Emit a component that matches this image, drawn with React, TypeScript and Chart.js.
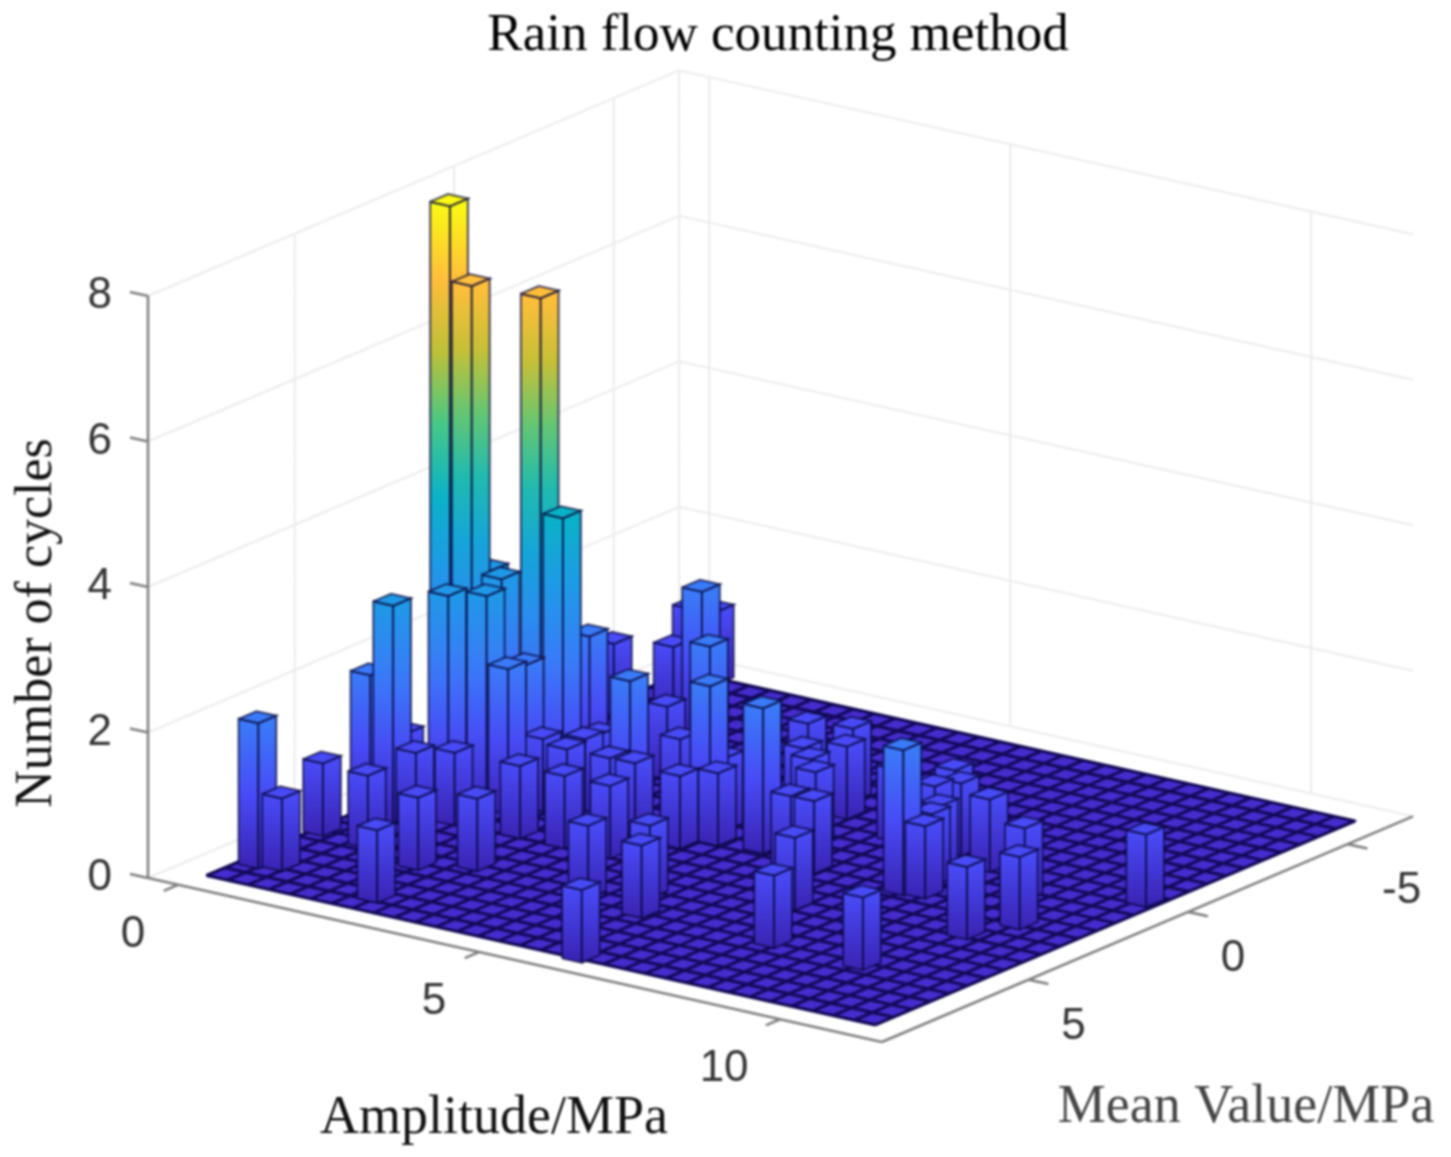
import React, { useEffect, useRef } from "react";
import { Chart, registerables } from "chart.js";

Chart.register(...registerables);

const barAmplitude = [
  0.30, 0.62, 0.17, 0.97, 2.47, 0.62, 0.29, 0.31, 0.91, 2.08, 1.33, 2.75, 0.97, 1.39, 0.32, 0.74, 1.80, 2.09, 0.79, 1.12,
  1.63, 1.72, 1.68, 0.27, 3.27, 1.94, 2.46, 2.40, 2.44, 3.16, 3.56, 2.38, 3.12, 3.87, 4.65, 6.23, 5.32, 5.74, 4.38, 4.72,
  4.27, 3.25, 1.76, 0.24, 0.57, 1.00, 2.46, 3.44, 4.41, 5.41, 4.43, 5.05, 5.44, 5.02, 5.38, 5.76, 6.10, 6.48, 7.21, 7.95,
  9.48, 8.01, 6.57, 8.33, 7.23, 7.63, 7.42, 7.98, 8.10, 8.35, 9.47, 10.15, 9.83, 10.95,
];
const barMean = [
  7.68, 7.54, 5.41, 5.51, 8.05, 4.06, 4.15, 3.09, 3.89, 6.03, 3.47, 5.44, 2.99, 2.58, 1.71, 1.82, 1.66, 1.51, 1.34, 1.60,
  2.36, 1.98, -0.10, -3.52, 1.63, 1.85, 2.08, 1.40, 1.00, 2.05, 2.02, 3.40, 3.40, 3.39, 5.55, 8.73, 4.88, 5.93, 2.16, 1.61,
  1.01, -0.91, -3.47, -6.04, -6.15, -4.01, -1.06, 0.38, 0.81, 1.50, -1.76, -2.00, -1.07, -0.51, -0.06, 0.51, 1.93, 1.92, 3.90, 5.95,
  6.05, 2.01, -0.50, 1.93, -1.08, -0.52, -0.09, 0.81, 1.28, -0.06, 0.96, 2.40, 3.45, -0.05,
];
const barCount = [
  2, 1, 1, 1, 1, 3, 2, 1, 1, 1, 1, 1, 3, 3, 8, 7, 7, 4, 3, 3,
  2, 2, 2, 1, 2, 1, 1, 1, 1, 1, 1, 1, 1, 1, 1, 1, 1, 1, 1, 1,
  2, 2, 2, 1, 1, 1, 1, 1, 1, 2, 1, 1, 1, 1, 1, 1, 1, 1, 1, 1,
  1, 2, 1, 1, 1, 1, 1, 1, 1, 1, 1, 1, 1, 1,
];

const countTicks = [0, 2, 4, 6, 8];
const amplitudeTicks = [0, 5, 10];
const meanTicks = [5, 0, -5];
const titleText = "Rain flow counting method";
const countTitle = "Number of cycles";
const amplitudeTitle = "Amplitude/MPa";
const meanTitle = "Mean Value/MPa";

const AMP_MIN = -0.5, AMP_MAX = 11.69, MEAN_MAX = 9.6, MEAN_MIN = -7.05;
const FLOOR_AMP = [0.07, 11.18];
const FLOOR_MEAN = [8.85, -6.2];
const FLOOR_COLS = 32, FLOOR_ROWS = 26;
const HALF_AMP = 0.165, HALF_MEAN = 0.28;

const W = 1451, H = 1157;
const ORIGIN_X = 148, ORIGIN_Y = 878, Z_PX = 72.75;

// Oblique projection of (amplitude, mean, count) into the chart's x scale and count-unit y scale.
function project(amp: number, mean: number, z: number) {
  const u = MEAN_MAX - mean;
  const a = amp - AMP_MIN;
  const x = ORIGIN_X + a * 60.2 + u * 31.9;
  const py = ORIGIN_Y + a * 13.45 - u * 13.55;
  return { x, y: (ORIGIN_Y - py) / Z_PX + z };
}

const parulaStops: [number, number[]][] = [
  [0, [58, 34, 178]],
  [1, [72, 74, 245]],
  [2, [58, 122, 248]],
  [3, [32, 152, 232]],
  [4, [10, 178, 200]],
  [5, [70, 200, 135]],
  [6, [190, 192, 55]],
  [7, [255, 190, 58]],
  [8, [250, 248, 20]],
];
function parula(z: number) {
  const i = Math.min(7, Math.max(0, Math.floor(z)));
  const f = z - i;
  const a = parulaStops[i][1], b = parulaStops[i + 1][1];
  const c = a.map((v, k) => Math.round(v + (b[k] - v) * f));
  return `rgb(${c[0]},${c[1]},${c[2]})`;
}

const EDGE = "rgba(8,8,60,0.72)";

function polyDataset(points: any[], extra: any) {
  return {
    type: "line",
    data: points,
    fill: false,
    borderWidth: 1,
    pointRadius: 0,
    tension: 0,
    clip: false,
    spanGaps: false,
    ...extra,
  };
}

function segments(list: any[][]) {
  const out: any[] = [];
  list.forEach((s) => {
    out.push(s[0], s[1], { x: s[1].x, y: null });
  });
  return out;
}

function buildDatasets() {
  const ds: any[] = [];
  const wall: any[][] = [];
  countTicks.forEach((z) => {
    wall.push([project(AMP_MIN, MEAN_MAX, z), project(AMP_MIN, MEAN_MIN, z)]);
    wall.push([project(AMP_MIN, MEAN_MIN, z), project(AMP_MAX, MEAN_MIN, z)]);
  });
  meanTicks.forEach((m) => wall.push([project(AMP_MIN, m, 0), project(AMP_MIN, m, 8)]));
  wall.push([project(AMP_MIN, MEAN_MIN, 0), project(AMP_MIN, MEAN_MIN, 8)]);
  amplitudeTicks.forEach((a) => wall.push([project(a, MEAN_MIN, 0), project(a, MEAN_MIN, 8)]));
  ds.push(polyDataset(segments(wall), { borderColor: "#ebebeb", borderWidth: 2 }));

  const axis: any[][] = [
    [project(AMP_MIN, MEAN_MAX, 0), project(AMP_MIN, MEAN_MAX, 8)],
    [project(AMP_MIN, MEAN_MAX, 0), project(AMP_MAX, MEAN_MAX, 0)],
    [project(AMP_MAX, MEAN_MAX, 0), project(AMP_MAX, MEAN_MIN, 0)],
  ];
  countTicks.forEach((z) => axis.push([project(AMP_MIN, MEAN_MAX, z), project(AMP_MIN - 0.3, MEAN_MAX, z)]));
  amplitudeTicks.forEach((a) => axis.push([project(a, MEAN_MAX, 0), project(a, MEAN_MAX + 0.45, 0)]));
  meanTicks.forEach((m) => axis.push([project(AMP_MAX, m, 0), project(AMP_MAX + 0.33, m, 0)]));
  ds.push(polyDataset(segments(axis), { borderColor: "#808080", borderWidth: 2.6 }));

  const [a0, a1] = FLOOR_AMP;
  const [m0, m1] = FLOOR_MEAN;
  ds.push(
    polyDataset(
      [project(a0, m0, 0), project(a1, m0, 0), project(a1, m1, 0), project(a0, m1, 0), project(a0, m0, 0)],
      { fill: "shape", backgroundColor: "rgb(70,44,205)", borderColor: "rgb(20,10,90)", borderWidth: 1.5 }
    )
  );
  const floorLines: any[][] = [];
  for (let i = 0; i <= FLOOR_COLS; i++) {
    const a = a0 + ((a1 - a0) * i) / FLOOR_COLS;
    floorLines.push([project(a, m0, 0), project(a, m1, 0)]);
  }
  for (let j = 0; j <= FLOOR_ROWS; j++) {
    const m = m0 + ((m1 - m0) * j) / FLOOR_ROWS;
    floorLines.push([project(a0, m, 0), project(a1, m, 0)]);
  }
  ds.push(polyDataset(segments(floorLines), { borderColor: "rgba(15,8,80,0.92)", borderWidth: 3.2 }));

  const order = barAmplitude
    .map((_, i) => i)
    .sort((p, q) => {
      const bp = project(barAmplitude[p] + HALF_AMP, barMean[p] + HALF_MEAN, 0).y;
      const bq = project(barAmplitude[q] + HALF_AMP, barMean[q] + HALF_MEAN, 0).y;
      return bq - bp;
    });

  order.forEach((i) => {
    const a = barAmplitude[i], m = barMean[i], h = barCount[i];
    const al = a - HALF_AMP, ar = a + HALF_AMP, mf = m + HALF_MEAN, mb = m - HALF_MEAN;
    const gradient = (ctx: any) => {
      const y = ctx.chart.scales.y;
      const base = project(ar, mf, 0).y;
      const y0 = y ? y.getPixelForValue(base) : NaN;
      const y1 = y ? y.getPixelForValue(base + h) : NaN;
      if (!isFinite(y0) || !isFinite(y1)) return parula(h);
      const g = ctx.chart.ctx.createLinearGradient(0, y0, 0, y1);
      for (let k = 0; k <= 8; k++) g.addColorStop(k / 8, parula((k / 8) * h));
      return g;
    };
    const common = { fill: "shape", borderColor: EDGE, borderWidth: 2, backgroundColor: gradient };
    ds.push(
      polyDataset(
        [project(al, mf, 0), project(ar, mf, 0), project(ar, mf, h), project(al, mf, h), project(al, mf, 0)],
        common
      )
    );
    ds.push(
      polyDataset(
        [project(ar, mf, 0), project(ar, mb, 0), project(ar, mb, h), project(ar, mf, h), project(ar, mf, 0)],
        common
      )
    );
    ds.push(
      polyDataset(
        [project(al, mf, h), project(ar, mf, h), project(ar, mb, h), project(al, mb, h), project(al, mf, h)],
        { ...common, backgroundColor: parula(h) }
      )
    );
  });

  const total = ds.length;
  ds.forEach((d, i) => (d.order = total - i));
  return ds;
}

const textPlugin = {
  id: "axisText",
  afterLayout(chart: any) {
    chart.titleBlock.left = 105;
    // Tie the count and screen scales to the laid-out chart area so one count is always Z_PX tall.
    const { top, bottom, left, right } = chart.chartArea;
    const ys = chart.scales.y, xs = chart.scales.x;
    ys.min = (ORIGIN_Y - bottom) / Z_PX;
    ys.max = (ORIGIN_Y - top) / Z_PX;
    ys.configure();
    xs.min = left;
    xs.max = right;
    xs.configure();
  },
  afterDraw(chart: any) {
    const { ctx, scales } = chart;
    const xs = scales.x, ys = scales.y;
    ctx.save();
    ctx.textAlign = "center";
    ctx.textBaseline = "middle";
    ctx.fillStyle = "#333";
    ctx.font = '44px "Liberation Sans"';
    amplitudeTicks.forEach((a) => {
      const p = project(a, MEAN_MAX, 0);
      const t = String(a);
      ctx.fillText(t, xs.getPixelForValue(p.x) - 45 - (t.length - 1) * 11, ys.getPixelForValue(p.y) + 50);
    });
    meanTicks.forEach((m) => {
      const p = project(AMP_MAX, m, 0);
      const t = String(m);
      ctx.fillText(t, xs.getPixelForValue(p.x) + 45 + (t.length - 1) * 9, ys.getPixelForValue(p.y) + 47);
    });
    ctx.font = '54px "Liberation Serif"';
    ctx.fillStyle = "#111";
    ctx.fillText(amplitudeTitle, 494, 1119);
    ctx.fillStyle = "#444";
    ctx.fillText(meanTitle, 1246, 1108);
    ctx.fillStyle = "#111";
    ctx.font = '52px "Liberation Serif"';
    ctx.translate(37, 623);
    ctx.rotate(-Math.PI / 2);
    ctx.fillText(countTitle, 0, 0);
    ctx.restore();
  },
};

export default function App() {
  const ref = useRef<HTMLCanvasElement>(null);
  useEffect(() => {
    const chart = new Chart(ref.current as any, {
      type: "line",
      data: { datasets: buildDatasets() as any },
      plugins: [textPlugin as any],
      options: {
        animation: false,
        responsive: false,
        events: [],
        layout: { padding: 0 },
        plugins: {
          legend: { display: false },
          tooltip: { enabled: false },
          title: {
            display: true,
            text: titleText,
            color: "#000",
            font: { family: '"Liberation Serif"', size: 53, weight: "normal", lineHeight: 1 },
            padding: { top: 7, bottom: 0 },
          },
        },
        scales: {
          x: { type: "linear", display: false, min: ORIGIN_X, max: W },
          y: {
            type: "linear",
            min: (ORIGIN_Y - H) / Z_PX,
            max: (ORIGIN_Y - 60) / Z_PX,
            afterFit: (s: any) => {
              s.width = ORIGIN_X;
            },
            afterBuildTicks: (s: any) => {
              s.ticks = countTicks.map((v) => ({ value: v }));
            },
            grid: { display: false, drawTicks: false },
            border: { display: false },
            ticks: {
              autoSkip: false,
              padding: 36,
              color: "#333",
              font: { family: '"Liberation Sans"', size: 44 },
              callback: (v: any) => String(v),
            },
          },
        },
      } as any,
    });
    return () => chart.destroy();
  }, []);
  return (
    <div style={{ position: "absolute", left: 0, top: 0, width: W, height: H, overflow: "hidden", background: "#fff" }}>
      <canvas ref={ref} width={W} height={H} style={{ display: "block", filter: "blur(0.9px)" }} />
    </div>
  );
}
